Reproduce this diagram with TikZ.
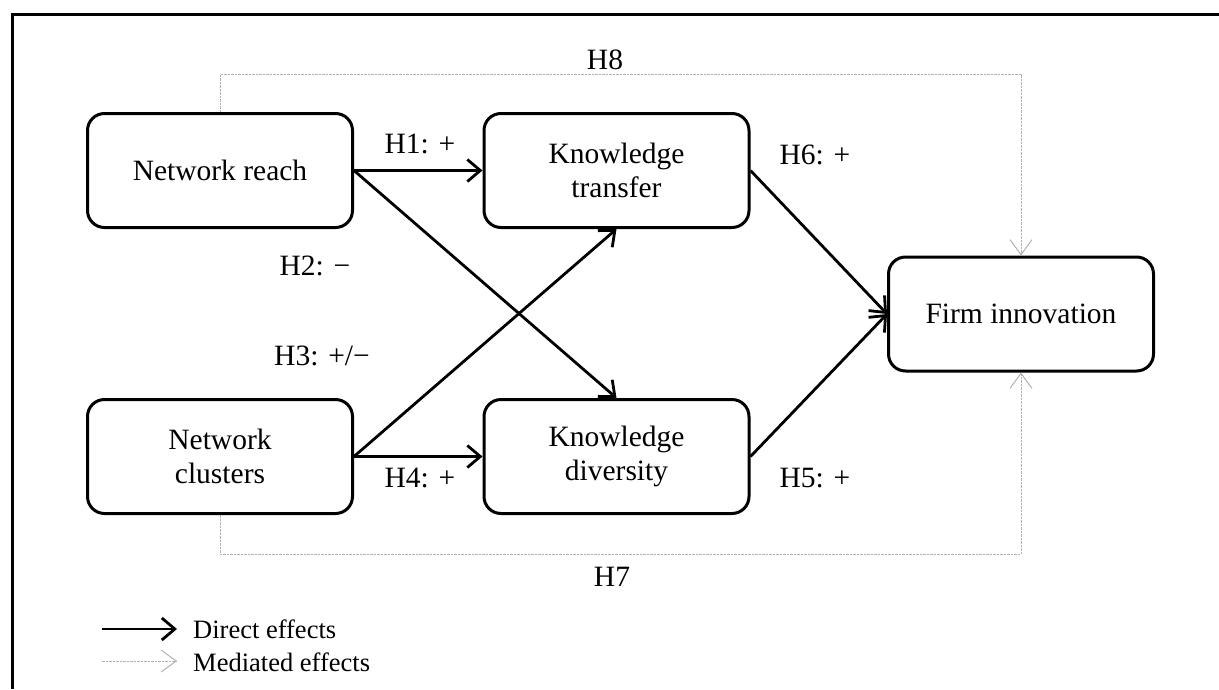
\documentclass[tikz,border=0pt]{standalone}
\usepackage{fontspec}
\setmainfont{Liberation Serif}
\usetikzlibrary{arrows.meta}
\begin{document}
\begin{tikzpicture}[x=1pt,y=-1pt,
  box/.style={draw=black,line width=3pt,rounded corners=17pt,minimum width=265pt,minimum height=114pt,align=center,font=\fontsize{29.5}{33.5}\selectfont,inner sep=0pt},
  lbl/.style={font=\fontsize{29.5}{33}\selectfont,inner sep=0pt},
  legtext/.style={font=\fontsize{26.5}{30}\selectfont,inner sep=0pt,anchor=west},
  direct/.style={draw=black,line width=2.8pt,-{Straight Barb[length=13pt,width=22pt,line width=2.8pt]}},
  med/.style={draw=black!30,line width=1pt,dash pattern=on 2.5pt off 1pt,-{Straight Barb[length=15pt,width=22pt,line width=1pt]}}]
\useasboundingbox (0,0) rectangle (1219,689);
% frame
\draw[line width=3.5pt] (12.5,689) -- (12.5,14.5) -- (1219,14.5);
% nodes
\node[box] (nr) at (220,170.5) {Network reach};
\node[box] (kt) at (616.5,170.5) {Knowledge\\transfer};
\node[box] (nc) at (220,456.5) {Network\\clusters};
\node[box] (kd) at (616.5,456.5) {Knowledge\\diversity};
\node[box] (fi) at (1021,314) {Firm innovation};
% mediated paths
\draw[med] (nr.north) -- ++(0,-38) -| (fi.north);
\draw[med] (nc.south) -- ++(0,39) -| (fi.south);
% direct paths
\draw[direct] (nr.east) -- (kt.west);
\draw[direct] (nr.east) -- (kd.north);
\draw[direct] (nc.east) -- (kt.south);
\draw[direct] (nc.east) -- (kd.west);
\draw[direct] (kt.east) -- (fi.west);
\draw[direct] (kd.east) -- (fi.west);
% labels
\node[lbl] (h1) at (420,144) {H1: +};
\node[lbl] (h2) at (315,266) {H2: −};
\node[lbl] (h3) at (322,356) {H3: +/−};
\node[lbl] (h4) at (420,478) {H4: +};
\node[lbl] (h6) at (815,155) {H6: +};
\node[lbl] (h5) at (815,478) {H5: +};
\node[lbl] (h8) at (605,60) {H8};
\node[lbl] (h7) at (612,577) {H7};
% legend
\coordinate (la1) at (102,629);
\coordinate (la2) at (177,629);
\coordinate (lb1) at (102,661);
\coordinate (lb2) at (177,661);
\draw[direct] (la1) -- (la2);
\draw[med] (lb1) -- (lb2);
\node[legtext] (ld) at (193,629) {Direct effects};
\node[legtext] (lm) at (193,662) {Mediated effects};
\end{tikzpicture}
\end{document}
